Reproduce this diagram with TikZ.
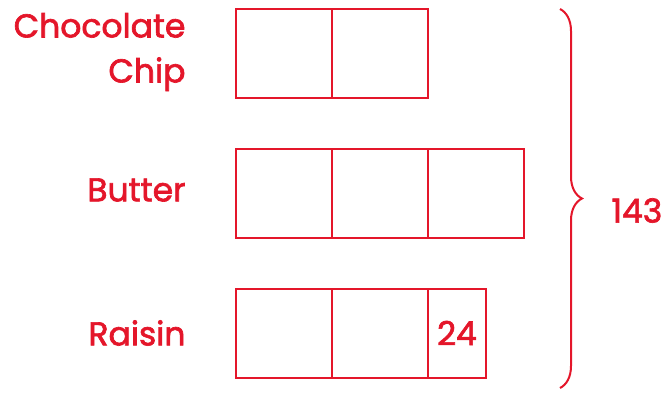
\documentclass[tikz,border=0pt]{standalone}
\usepackage{fontspec}
\setmainfont{Poppins}[FakeBold=2]
\usetikzlibrary{calc,positioning,decorations.pathreplacing}
\definecolor{bred}{RGB}{228,22,42}

\begin{document}
\begin{tikzpicture}[x=1pt,y=-1pt,font=\fontsize{33}{45}\selectfont,text=bred,
    cell/.style={draw=bred,line width=2pt,outer sep=0pt,minimum width=96pt,minimum height=89pt,inner sep=0pt},
    every node/.style={align=center}]
    \useasboundingbox (0,0) rectangle (672,392);
    % chocolate chip
    \node[cell] (c1) at (284,53.5) {};
    \node[cell,right=0pt of c1] (c2) {};
    \node[anchor=east,align=right] at (189,52) (lc) {Chocolate\\Chip};
    % butter
    \node[cell] (b1) at (284,193.5) {};
    \node[cell,right=0pt of b1] (b2) {};
    \node[cell,right=0pt of b2] (b3) {};
    \node[anchor=east] at (189,190) (lb) {Butter};
    % raisin
    \node[cell] (r1) at (284,333) {};
    \node[cell,right=0pt of r1] (r2) {};
    \node[cell,right=0pt of r2,minimum width=58pt] (r3) {24};
    \node[anchor=east] at (189,333) (lr) {Raisin};
    % total
    \coordinate (top) at (560,9);
    \coordinate (bot) at (560,388);
    \draw[bred,line width=2pt,decorate,decoration={brace,amplitude=22pt}] (top) -- (bot);
    \node[anchor=west] at ($(top)!.5!(bot)+(48,12)$) (tot) {143};
  \end{tikzpicture}
\end{document}
